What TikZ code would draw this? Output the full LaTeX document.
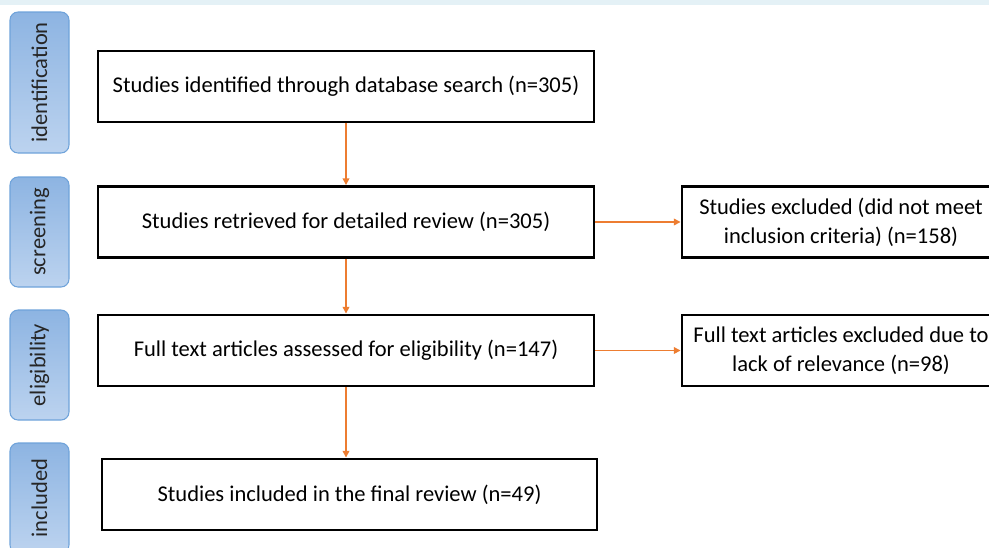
\documentclass[tikz,border=0pt]{standalone}
\usepackage{fontspec}
\setmainfont{Carlito}
\usetikzlibrary{arrows.meta}

\definecolor{arroworange}{HTML}{ED7D31}
\definecolor{tabedge}{HTML}{6FA3DA}
\definecolor{tabtop}{HTML}{8DB4E2}
\definecolor{tabbottom}{HTML}{BCD3EF}
\definecolor{topband}{HTML}{E4F1F6}

\tikzset{
	stagebox/.style={rectangle, draw, line width=2.2pt, align=center,
		font=\fontsize{16.9}{21.5}\selectfont, inner sep=0pt},
	tab/.style={rectangle, rounded corners=6pt, draw=tabedge, line width=0.8pt,
		top color=tabtop, bottom color=tabbottom, minimum width=44.25pt},
	tablabel/.style={rotate=90, font=\fontsize{16.9}{20}\selectfont, text=black!85},
	flow/.style={->, >={Triangle[length=5pt, width=5pt]}, draw=arroworange, line width=1.1pt}
}

\begin{document}
\begin{tikzpicture}[x=0.75pt, y=-0.75pt]

\useasboundingbox (0, 0) rectangle (989, 547);
\clip (0, 0) rectangle (989, 547);
\fill [topband] (0, 0) rectangle (989, 5);

% stage tabs on the left
\node [tab, minimum height=105.75pt] (identification) at (39.5, 82.5) {};
\node [tablabel] at (identification) {identification};
\node [tab, minimum height=82.5pt] (screening) at (39.5, 232) {};
\node [tablabel] at (screening) {screening};
\node [tab, minimum height=82.5pt] (eligibility) at (39.5, 365) {};
\node [tablabel] at (eligibility) {eligibility};
\node [tab, minimum height=82.5pt] (included) at (39.5, 498) {};
\node [tablabel] at (included) {included};

% main column
\node [stagebox, minimum width=372pt, minimum height=53.25pt] (identified) at (346, 86.5)
	{Studies identified through database search (n=305)};
\node [stagebox, minimum width=372pt, minimum height=53.25pt] (retrieved) at (346, 222)
	{Studies retrieved for detailed review (n=305)};
\node [stagebox, minimum width=372pt, minimum height=53.25pt] (assessed) at (346, 350.5)
	{Full text articles assessed for eligibility (n=147)};
\node [stagebox, minimum width=371.25pt, minimum height=53.25pt] (final) at (349.5, 494.5)
	{Studies included in the final review (n=49)};

% exclusions
\node [stagebox, minimum width=238.5pt, minimum height=53.25pt] (excluded) at (841, 222)
	{Studies excluded (did not meet\\inclusion criteria) (n=158)};
\node [stagebox, minimum width=238.5pt, minimum height=53.25pt] (irrelevant) at (841, 350.5)
	{Full text articles excluded due to\\lack of relevance (n=98)};

\draw [flow] (identified.south) -- (retrieved.north);
\draw [flow] (retrieved.south) -- (assessed.north);
\draw [flow] (assessed.south) -- (assessed.south |- final.north);
\draw [flow] (retrieved.east) -- (excluded.west);
\draw [flow] (assessed.east) -- (irrelevant.west);

\end{tikzpicture}
\end{document}
